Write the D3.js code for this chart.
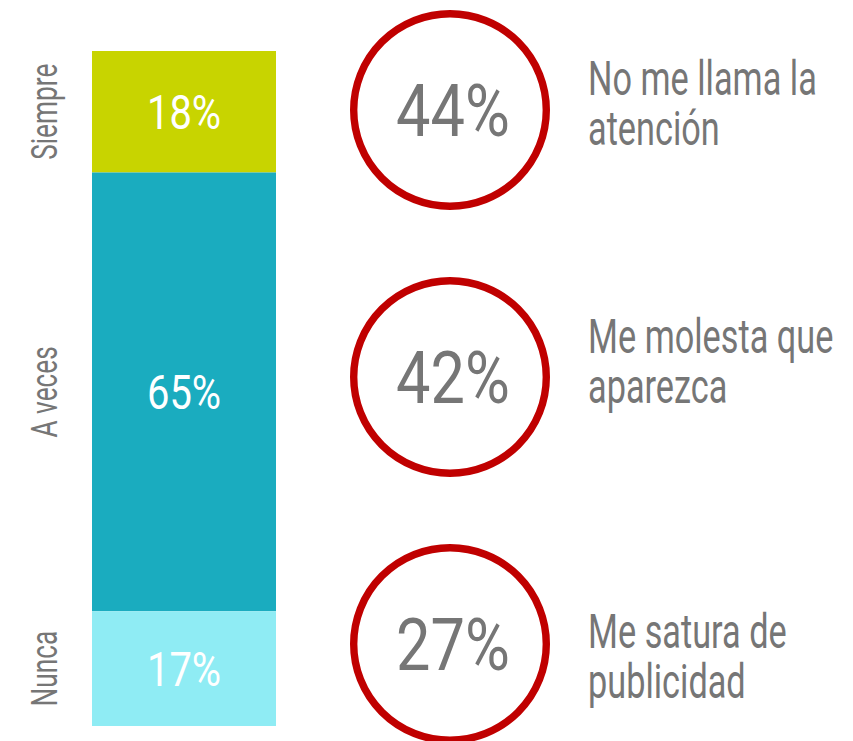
<!DOCTYPE html>
<html>
<head>
<meta charset="utf-8">
<script src="https://cdn.jsdelivr.net/npm/d3@7/dist/d3.min.js"></script>
<style>
  html, body { margin: 0; padding: 0; background: #fff; }
  svg { display: block; }
</style>
</head>
<body>
<svg id="chart" width="853" height="741"></svg>
<script>
// Frequency split (stacked bar)
const categories = ["Siempre", "A veces", "Nunca"];
const shares = [18, 65, 17];

// Reasons (circled percentages)
const reasonLines = [
  ["No me llama la", "atención"],
  ["Me molesta que", "aparezca"],
  ["Me satura de", "publicidad"]
];
const reasonShares = [44, 42, 27];

// Look and layout
const segmentColors = ["#c8d400", "#1aacbf", "#8fecf4"];
const FONT = "Roboto, 'DejaVu Sans Condensed', sans-serif";
const WORD_SQUEEZE = 0.70;   // horizontal condensing for words
const NUM_SQUEEZE = 0.84;    // horizontal condensing for figures
const grey = "#767676";
const red = "#c00000";
const bar = { x0: 92, x1: 276, top: 51, bottom: 726 };
const circ = { cx: 450, r: 96.3, stroke: 7.4, first: 110, last: 644 };
const noteX = 588;
const noteShift = [-15, -24, 4];   // baseline of first note line relative to circle centre
const noteLeading = 50;

const svg = d3.select("#chart");

// Vertical value scale for the stacked bar
const y = d3.scaleLinear().domain([0, d3.sum(shares)]).range([bar.top, bar.bottom]);

const rows = categories.map((c, i) => ({
  cat: c,
  value: shares[i],
  start: d3.sum(shares.slice(0, i)),
  color: segmentColors[i]
}));

const seg = svg.append("g").selectAll("g").data(rows).join("g");

seg.append("rect")
  .attr("x", bar.x0)
  .attr("width", bar.x1 - bar.x0)
  .attr("y", d => y(d.start))
  .attr("height", d => y(d.start + d.value) - y(d.start))
  .attr("fill", d => d.color);

// Value labels inside segments
seg.append("text")
  .attr("transform", d => `translate(${(bar.x0 + bar.x1) / 2},${y(d.start + d.value / 2) + 17.5}) scale(${NUM_SQUEEZE * 0.97},1)`)
  .attr("text-anchor", "middle")
  .attr("font-family", FONT)
  .attr("font-size", 49)
  .attr("fill", "#ffffff")
  .text(d => d.value + "%");

// Category labels, rotated
seg.append("text")
  .attr("transform", d => `translate(57,${y(d.start + d.value / 2)}) rotate(-90) scale(${WORD_SQUEEZE},1)`)
  .attr("text-anchor", "middle")
  .attr("font-family", FONT)
  .attr("font-size", 37.5)
  .attr("fill", grey)
  .text(d => d.cat);

// Circled percentages with their reasons
const cy = d3.scalePoint().domain(d3.range(reasonShares.length)).range([circ.first, circ.last]);

const item = svg.append("g").selectAll("g")
  .data(reasonShares.map((v, i) => ({ v, i, lines: reasonLines[i] })))
  .join("g");

item.append("circle")
  .attr("cx", circ.cx)
  .attr("cy", d => cy(d.i))
  .attr("r", circ.r)
  .attr("fill", "none")
  .attr("stroke", red)
  .attr("stroke-width", circ.stroke);

item.append("text")
  .attr("transform", d => `translate(${circ.cx + 3},${cy(d.i) + 26}) scale(${NUM_SQUEEZE},1)`)
  .attr("text-anchor", "middle")
  .attr("font-family", FONT)
  .attr("font-size", 73)
  .attr("fill", grey)
  .text(d => d.v + "%");

item.append("g")
  .attr("transform", `translate(${noteX},0) scale(${WORD_SQUEEZE},1)`)
  .selectAll("text")
  .data(d => d.lines.map((t, k) => ({ t, k, base: cy(d.i) + noteShift[d.i] })))
  .join("text")
  .attr("x", 0)
  .attr("y", d => d.base + d.k * noteLeading)
  .attr("font-family", FONT)
  .attr("font-size", 49)
  .attr("fill", grey)
  .text(d => d.t);
</script>
</body>
</html>
